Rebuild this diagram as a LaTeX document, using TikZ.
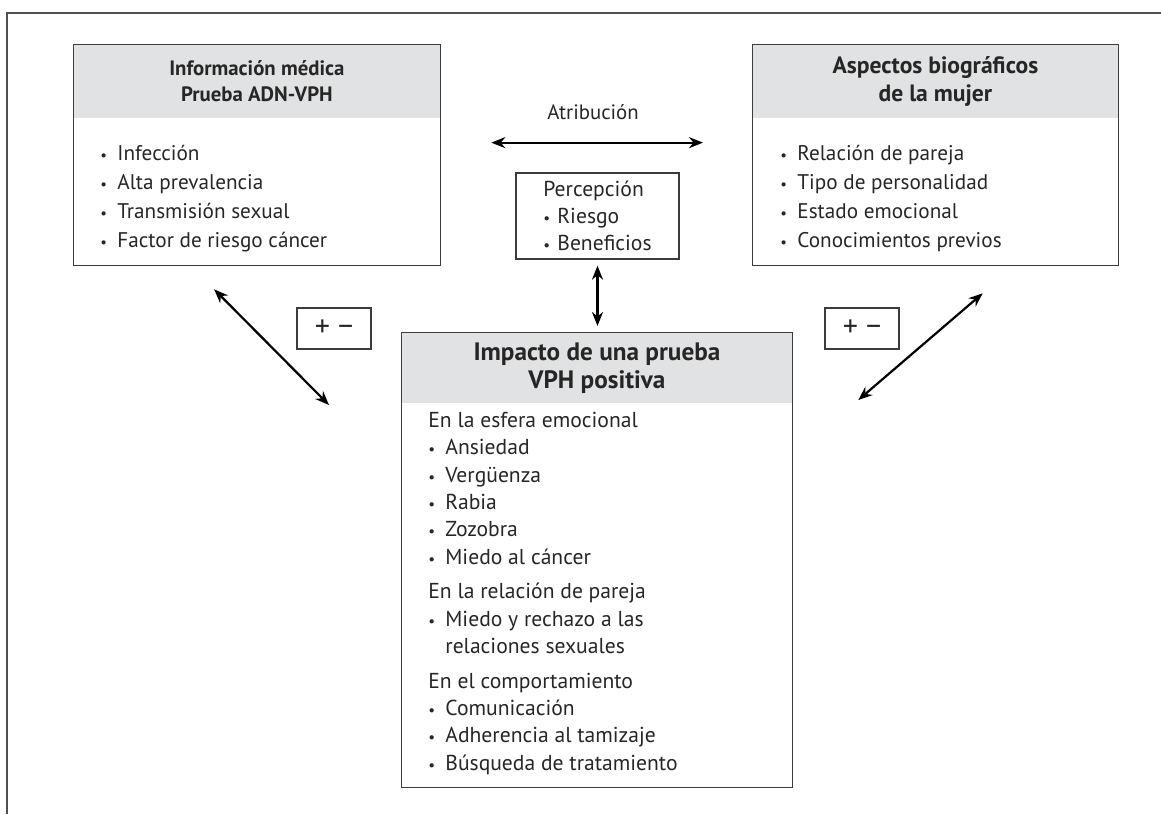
\documentclass[tikz,border=0pt]{standalone}
\usepackage{fontspec}
\usepackage{graphicx}
\setmainfont{PT Sans}
\usetikzlibrary{arrows.meta}
\definecolor{hdrgray}{HTML}{E1E2E3}
\definecolor{boxline}{HTML}{3C3C3C}
\definecolor{framegray}{HTML}{505050}
\newcommand{\itm}[1][8.5pt]{\makebox[#1][l]{\scalebox{0.7}{\textbullet}}}
\begin{document}
\begin{tikzpicture}[
   x=0.5pt,y=-0.5pt,
   head/.style={fill=hdrgray,align=center,inner sep=0pt,anchor=north west,font=\bfseries\fontsize{10.4}{13}\selectfont},
   frame/.style={draw=boxline,line width=0.65pt,inner sep=0pt,anchor=north west},
   items/.style={align=left,anchor=west,inner sep=0pt,font=\fontsize{10.6}{14.5}\selectfont},
   sign/.style={draw=boxline,line width=0.65pt,minimum width=37pt,minimum height=20.5pt,inner sep=0pt,font=\fontsize{15}{15}\selectfont},
   both/.style={{Stealth[length=7pt,width=5.5pt]}-{Stealth[length=7pt,width=5.5pt]},line width=1.1pt},
   every node/.style={text=black!85}]
\useasboundingbox (0,0) rectangle (1161,814);
\draw[framegray,line width=0.75pt] (7,814) |- (1161,13);
\node[head,minimum width=183.5pt,minimum height=37pt] (medhead) at (73,44) {Información médica\\Prueba ADN-VPH};
\node[frame,minimum width=183.5pt,minimum height=110.5pt] (med) at (medhead.north west) {};
\node[items] (medlist) at (100,198.5) {\itm Infección\\\itm Alta prevalencia\\\itm Transmisión sexual\\\itm Factor de riesgo cáncer};
\node[head,minimum width=183pt,minimum height=37pt,font=\bfseries\fontsize{11.8}{14}\selectfont] (biohead) at (752,44) {Aspectos biográficos\\de la mujer};
\node[frame,minimum width=183pt,minimum height=110.5pt] (bio) at (biohead.north west) {};
\node[items] (biolist) at (780,198.5) {\itm Relación de pareja\\\itm Tipo de personalidad\\\itm Estado emocional\\\itm Conocimientos previos};
\node[font=\fontsize{10.4}{13}\selectfont] (atr) at (593,112) {Atribución};
\node[frame,anchor=center,minimum width=81.5pt,minimum height=43pt,align=left,font=\fontsize{10.8}{13.5}\selectfont] (perc) at (597.5,216) {Percepción\\\itm[7pt]Riesgo\\\itm[7pt]Beneficios};
\node[head,minimum width=195.5pt,minimum height=35.5pt,font=\bfseries\fontsize{12.6}{14}\selectfont] (imphead) at (401,332) {Impacto de una prueba\\VPH positiva};
\node[frame,minimum width=195.5pt,minimum height=227.5pt] (imp) at (imphead.north west) {};
\node[items,font=\fontsize{10.8}{13.65}\selectfont] (implist) at (428,593.5) {En la esfera emocional\\\itm Ansiedad\\\itm Vergüenza\\\itm Rabia\\\itm Zozobra\\\itm Miedo al cáncer\\[3.75pt]
En la relación de pareja\\\itm Miedo y rechazo a las\\\hspace*{8.5pt}relaciones sexuales\\[3.75pt]
En el comportamiento\\\itm Comunicación\\\itm Adherencia al tamizaje\\\itm Búsqueda de tratamiento};
\node[sign] (pmleft) at (334,328.5) {+ −};
\node[sign] (pmright) at (862,328.5) {+ −};
\draw[both] ([xshift=25pt,yshift=6.25pt]med.east) -- ([xshift=-24.5pt,yshift=6.25pt]bio.west);
\draw[both,shorten <=3pt,shorten >=3pt] (perc.south) -- (perc.south |- imp.north);
\draw[both] ([xshift=-21.5pt,yshift=-11.5pt]med.south) -- ([xshift=-36pt,yshift=-36.5pt]imp.north west);
\draw[both] ([xshift=23.5pt,yshift=-13.5pt]bio.south) -- ([xshift=32.5pt,yshift=-34pt]imp.north east);
\end{tikzpicture}
\end{document}
